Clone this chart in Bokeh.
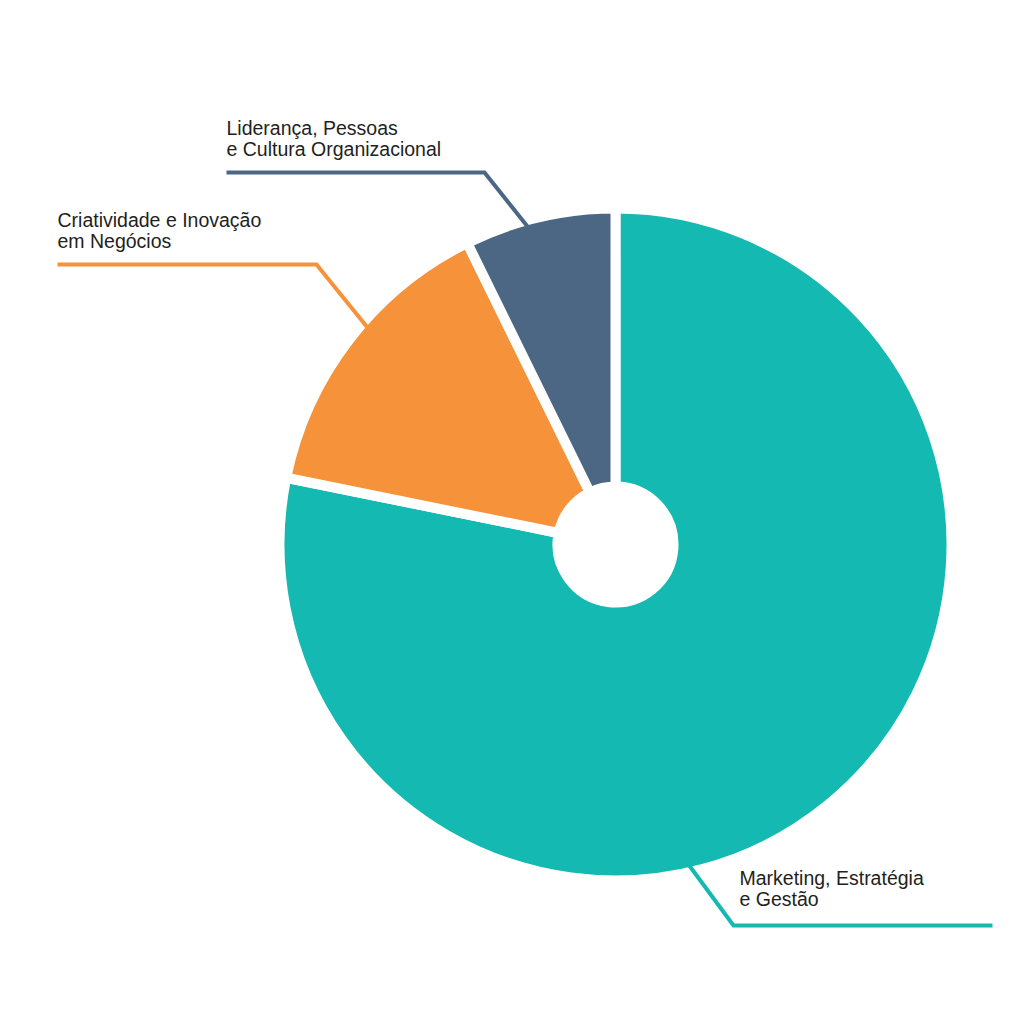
import numpy as np
from bokeh.plotting import figure
from bokeh.models import Range1d, ColumnDataSource
from bokeh.core.properties import value
from bokeh.embed import file_html
from bokeh.resources import INLINE

# Data
categories = ["Marketing, Estratégia e Gestão",
              "Criatividade e Inovação em Negócios",
              "Liderança, Pessoas e Cultura Organizacional"]
values = [43, 8, 4]
colors = ["#14B9B1", "#F6923A", "#4B6784"]
label_lines = [["Marketing, Estratégia", "e Gestão"],
               ["Criatividade e Inovação", "em Negócios"],
               ["Liderança, Pessoas", "e Cultura Organizacional"]]

W = H = 1000
p = figure(width=W, height=H, output_backend="svg", toolbar_location=None,
           x_range=Range1d(0, 1000), y_range=Range1d(24, 1024),
           min_border=0, outline_line_color=None)
p.axis.visible = False
p.grid.visible = False
p.background_fill_color = "white"
p.border_fill_color = "white"

def Y(sy):
    return 1024 - sy

cx, cy = 615, Y(544)
r_out, r_in = 331, 63
gap = 10

vals = np.array(values, dtype=float)
fr = vals / vals.sum()
ang = 2 * np.pi * fr
start = np.pi / 2 - np.concatenate([[0], np.cumsum(ang)[:-1]])
end = start - ang

src = ColumnDataSource(dict(x=[cx] * 3, y=[cy] * 3, start=list(start), end=list(end),
                            color=colors, cat=categories))
p.annular_wedge(x="x", y="y", inner_radius=r_in - gap / 2, outer_radius=r_out + gap / 2,
                start_angle="start", end_angle="end", direction="clock",
                fill_color="color", line_color="white", line_width=gap, source=src)

# leader lines (screen coords)
leaders = [
    ([688, 733, 992], [864, 925, 925]),
    ([367, 316, 57], [327, 264, 264]),
    ([527, 484, 226], [226, 172, 172]),
]
for (xs, ys), c in zip(leaders, colors):
    p.line(xs, [Y(v) for v in ys], line_color=c, line_width=4, line_join="miter")

text_pos = [(739, 877), (57, 219), (226, 127)]
lh = 21
for (tx, ty), lines in zip(text_pos, label_lines):
    p.text(x=[tx] * len(lines), y=[Y(ty + i * lh) for i in range(len(lines))],
           text=lines, text_font=value("Liberation Sans"), text_font_size="19.5px",
           text_color="#231F20", text_baseline="alphabetic", text_align="left")

open("out.html", "w").write(file_html(p, INLINE))
